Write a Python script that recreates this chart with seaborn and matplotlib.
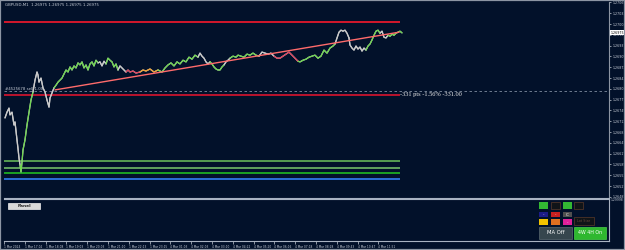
import numpy as np
import pandas as pd
import matplotlib
matplotlib.use("Agg")
import matplotlib.pyplot as plt
import seaborn as sns
from matplotlib.patches import Rectangle

# ---------------- data ----------------
title_text = "GBPUSD,M1  1.26975 1.26975 1.26975 1.26975"
last_price = 1.26975

bars = [3, 9, 15, 18, 24, 30, 33, 39, 42, 45, 48, 51, 54, 57, 63, 69, 75, 81, 87, 93, 96, 99, 102, 105,
        111, 117, 123, 129, 135, 138, 144, 150,
        156, 162, 168, 174, 180, 186, 192, 198, 204, 210, 216, 222, 228, 234, 240, 246, 252, 258, 264,
        270, 276, 282, 288, 294, 300, 306, 312, 318, 324, 330, 336, 342, 348, 354, 360, 366, 372, 378,
        387, 396, 408, 417, 426, 438, 450, 462, 474, 483, 492, 501, 510, 519, 528, 537, 546, 555, 564,
        573, 582, 588, 594, 600, 606, 612, 618,
        624, 630, 636, 642, 648, 654, 660, 666, 672, 678,
        687, 696, 702, 711, 720, 729, 738, 747, 756, 765, 774, 783, 792, 801, 810, 819, 828, 837, 846,
        855, 864, 873, 882,
        888, 897, 906, 915, 924, 933, 942, 951, 960, 969, 978, 987,
        993, 999, 1005, 1011, 1017, 1023, 1029, 1035,
        1038, 1044, 1050, 1056, 1062, 1068, 1074, 1080, 1086, 1092, 1098, 1104, 1110, 1116, 1122, 1128,
        1134, 1140, 1146, 1152, 1158, 1164, 1170, 1176, 1182, 1188, 1194]

prices = [1.26723, 1.26740, 1.26752, 1.26732, 1.26740, 1.26702, 1.26711, 1.26658, 1.26634, 1.26604,
          1.26584, 1.26563, 1.26592, 1.26628, 1.26658, 1.26702, 1.26740, 1.26776, 1.26800, 1.26835,
          1.26847, 1.26859, 1.26850, 1.26829, 1.26841, 1.26812, 1.26800, 1.26776, 1.26755, 1.26782,
          1.26797, 1.26812,
          1.26820, 1.26829, 1.26835, 1.26841, 1.26853, 1.26865, 1.26859, 1.26874, 1.26865, 1.26877,
          1.26871, 1.26886, 1.26880, 1.26889, 1.26871, 1.26880, 1.26865, 1.26883, 1.26889, 1.26877,
          1.26894, 1.26886, 1.26889, 1.26877, 1.26891, 1.26883, 1.26900, 1.26894, 1.26889, 1.26874,
          1.26883, 1.26865, 1.26877, 1.26871, 1.26865, 1.26859, 1.26865, 1.26859,
          1.26862, 1.26856, 1.26859, 1.26865, 1.26862, 1.26868, 1.26859, 1.26865, 1.26859, 1.26871,
          1.26880, 1.26886, 1.26877, 1.26889, 1.26883, 1.26894, 1.26889, 1.26903, 1.26897, 1.26909,
          1.26903,
          1.26915, 1.26906, 1.26900, 1.26889, 1.26883, 1.26889,
          1.26883, 1.26874, 1.26868, 1.26865, 1.26865, 1.26874, 1.26880, 1.26889, 1.26894, 1.26900,
          1.26906, 1.26903, 1.26909, 1.26906, 1.26903, 1.26912, 1.26909, 1.26915, 1.26909, 1.26906,
          1.26918, 1.26915, 1.26912, 1.26915, 1.26906, 1.26900, 1.26900, 1.26906, 1.26912, 1.26918,
          1.26909, 1.26900, 1.26891,
          1.26889, 1.26894, 1.26897, 1.26903, 1.26906, 1.26909, 1.26900, 1.26906, 1.26924, 1.26915,
          1.26930, 1.26936,
          1.26942, 1.26960, 1.26977, 1.26983, 1.26980, 1.26983, 1.26974, 1.26960,
          1.26939, 1.26930, 1.26924, 1.26936, 1.26927, 1.26933, 1.26921, 1.26930, 1.26924, 1.26936,
          1.26942, 1.26954, 1.26968, 1.26980, 1.26983, 1.26974, 1.26980, 1.26962, 1.26960, 1.26968,
          1.26965, 1.26971, 1.26968, 1.26974, 1.26977, 1.26980, 1.26975]

# bar state of each point: w = neutral, g = up, r = down, o = orange
state_runs = [("w", 11), ("g", 8), ("w", 13),
              ("g", 22), ("w", 4), ("g", 6), ("w", 4), ("r", 5), ("o", 5), ("g", 13), ("w", 6),
              ("g", 7), ("w", 3), ("g", 10), ("w", 5), ("r", 8), ("g", 13), ("w", 7), ("w", 9),
              ("g", 7), ("w", 4), ("g", 7)]

red_levels = [1.27007, 1.26791]
dashed_level = 1.26803
green_levels = [1.26595, 1.26575, 1.26560]
blue_level = 1.26542
level_end_bar = 1188
trend_bars = [153, 1185]
trend_prices = [1.26806, 1.26977]

price_ticks = [1.27065, 1.27033, 1.27001, 1.26969, 1.26937, 1.26905, 1.26873, 1.26841, 1.26809,
               1.26777, 1.26745, 1.26713, 1.26681, 1.26649, 1.26617, 1.26585, 1.26553, 1.26521,
               1.26489]
time_labels = ["1 Mar 2024", "1 Mar 17:02", "1 Mar 18:08", "1 Mar 19:03", "1 Mar 20:03",
               "1 Mar 21:10", "1 Mar 22:13", "1 Mar 23:15", "4 Mar 01:03", "4 Mar 02:03",
               "4 Mar 03:10", "4 Mar 04:22", "4 Mar 05:20", "4 Mar 06:16", "4 Mar 07:18",
               "4 Mar 08:28", "4 Mar 09:43", "4 Mar 10:47", "4 Mar 11:51"]
time_tick_bars = [0, 62, 125, 187, 250, 312, 374, 437, 499, 562, 624, 686, 749, 811, 874, 936,
                  998, 1061, 1123]

order_label = "#4525678 sell 1.00"
pts_label = "-331 pts -1.56% -331.00"

# ---------------- style ----------------
BG = "#02112a"
FRAME = "#8c95a3"
TXT = "#c6ccd6"
state_colors = {"w": "#c9c9c9", "g": "#6fd84e", "r": "#e0405a", "o": "#f0a030"}

sns.set_theme(style="dark", rc={"axes.facecolor": BG, "figure.facecolor": BG})
plt.rcParams["font.family"] = ["DejaVu Sans"]

W, H = 625, 250
fig = plt.figure(figsize=(W / 100, H / 100), dpi=100, facecolor=BG)


def fx(px):
    return px / W


def fy(py):
    return 1 - py / H


ax = fig.add_axes([fx(4), fy(198), fx(609) - fx(4), (198 - 2) / H])
ax2 = fig.add_axes([fx(4), fy(241), fx(609) - fx(4), (241 - 199) / H], sharex=ax)
for a in (ax, ax2):
    a.set_facecolor(BG)
    a.grid(False)
    for s in ("top", "left", "bottom", "right"):
        a.spines[s].set_visible(False)

states = []
for s, n in state_runs:
    states += [s] * n
df = pd.DataFrame({"bar": bars, "price": prices, "state": states})

# base price line
sns.lineplot(data=df, x="bar", y="price", ax=ax, color=state_colors["w"], lw=0.9,
             estimator=None, sort=False, legend=False, zorder=4)
# coloured runs
start = 0
for s, n in state_runs:
    lo = max(start - 1, 0)
    seg = df.iloc[lo:start + n]
    ax.plot(seg["bar"], seg["price"], color=state_colors[s], lw=0.9, zorder=5)
    start += n

# levels
ax.hlines(red_levels[0], 0, level_end_bar, color="#e3182c", lw=1.3, zorder=3)
ax.hlines(red_levels[1], 0, level_end_bar, color="#c8142e", lw=1.3, zorder=3)
ax.axhline(dashed_level, color="#7f8da0", lw=0.6, ls=(0, (3, 3)), zorder=2)
ax.hlines(green_levels[0], 0, level_end_bar, color="#6cc25c", lw=1.1, zorder=3)
ax.hlines(green_levels[1], 0, level_end_bar, color="#79c86a", lw=1.1, zorder=3)
ax.hlines(green_levels[2], 0, level_end_bar, color="#22c822", lw=1.1, zorder=3)
ax.hlines(blue_level, 0, level_end_bar, color="#2a6fd6", lw=1.4, zorder=3)
sns.lineplot(x=trend_bars, y=trend_prices, ax=ax, color="#ff6b6b", lw=1.0, zorder=6)

ax.text(level_end_bar, red_levels[1], pts_label, color="#e8e8e8", fontsize=4.6,
        family=["Liberation Serif", "DejaVu Serif"], va="center", ha="left", zorder=7)
ax.text(3, dashed_level, order_label, color=TXT, fontsize=2.8, va="bottom", ha="left", zorder=7)

ax.set_xlim(0, 1815)
ax.set_ylim(1.264857, 1.2706648)
ax.set_xlabel("")
ax.set_ylabel("")
ax.yaxis.tick_right()
ax.set_yticks(price_ticks)
ax.set_yticklabels([f"{p:.5f}" for p in price_ticks])
ax.tick_params(axis="y", right=True, length=1.5, width=0.5, colors=TXT, labelsize=2.3, pad=1.0)
ax.tick_params(axis="x", bottom=False, labelbottom=False)
ax.spines["right"].set_visible(True)
ax.spines["right"].set_color(FRAME)
ax.spines["right"].set_linewidth(0.8)
ax.spines["bottom"].set_visible(True)
ax.spines["bottom"].set_color("#a9b3c2")
ax.spines["bottom"].set_linewidth(0.8)
ax.text(1.003, last_price, f"{last_price:.5f}", transform=ax.get_yaxis_transform(),
        fontsize=2.3, color="#000000", va="center", ha="left", clip_on=False, zorder=10,
        bbox=dict(boxstyle="square,pad=0.15", fc="#ffffff", ec="none"))

# lower pane
ax2.set_ylim(0, 1)
ax2.set_yticks([])
for s in ("top", "bottom", "right"):
    ax2.spines[s].set_visible(True)
    ax2.spines[s].set_color("#a9b3c2")
    ax2.spines[s].set_linewidth(0.8)
ax2.set_xticks(time_tick_bars)
ax2.set_xticklabels(time_labels)
ax2.tick_params(axis="x", bottom=True, length=2, width=0.5, colors=TXT, labelsize=2.1, pad=0.8)
plt.setp(ax2.get_xticklabels(), ha="left")
ax2.set_xlabel("")
ax2.set_ylabel("")
fig.text(fx(611), fy(198), "1.29998", fontsize=2.2, color=TXT, va="top", ha="left")


def frect(x0, y0, x1, y1, fc, ec="none", lw=0.5):
    r = Rectangle((fx(x0), fy(y1)), fx(x1) - fx(x0), fy(y0) - fy(y1), transform=fig.transFigure,
                  fc=fc, ec=ec, lw=lw, zorder=20)
    fig.add_artist(r)


def ftext(x, y, s, color, size, weight="normal"):
    fig.text(fx(x), fy(y), s, color=color, fontsize=size, ha="center", va="center",
             weight=weight, zorder=21)


frect(8, 203, 40, 209, "#d9d9d9", "#f0f0f0")
ftext(24, 206, "Panel", "#202020", 3.2, "bold")

frect(539, 202, 548, 209, "#33b833")
frect(551, 202, 560, 209, "#101418", "#5a3a2a")
frect(563, 202, 572, 209, "#33b833")
frect(574, 202, 583, 209, "#101418", "#5a3a2a")
frect(539, 212, 548, 217, "#1c1c88")
ftext(543.5, 214.5, "-", "#ffffff", 3)
frect(551, 212, 560, 217, "#c82020")
ftext(555.5, 214.5, "-", "#ffffff", 3)
frect(563, 212, 572, 217, "#505050")
ftext(567.5, 214.5, "C", "#ffffff", 3)
frect(539, 219, 548, 225, "#f2c200")
frect(551, 219, 560, 225, "#e07020")
frect(563, 219, 572, 225, "#e0209a")
ftext(567.5, 222, "-", "#ffffff", 3)
frect(574, 217, 594, 225, "#101418", "#5a3a2a")
ftext(584, 221, "Lot Size", "#6a4a3a", 2.4)
frect(539, 227, 572, 239, "#36464e", "#5a6a70")
ftext(555.5, 233, "MA Off", "#ffffff", 3.8)
frect(574, 227, 606, 239, "#2fb82f", "#48d048")
ftext(590, 233, "4W 4H On", "#ffffff", 3.4)

fig.text(fx(5), fy(3), title_text, color=TXT, fontsize=2.8, va="top", ha="left")

fig.add_artist(Rectangle((0, 0), 1, 1, transform=fig.transFigure, fc="none", ec=FRAME, lw=1.6,
                         zorder=30))

fig.savefig("out.png", dpi=100, facecolor=BG)
